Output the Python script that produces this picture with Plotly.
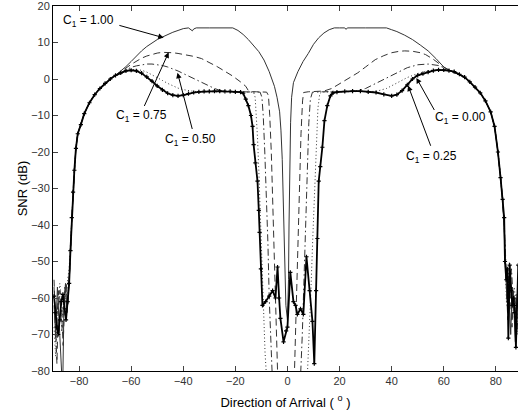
import plotly.graph_objects as go

# ---------------- data ----------------
# shared outer flanks (all curves coincide here)
outer_left_x = [-82.3, -81.8, -81.2, -80.5, -79.3, -78, -76, -74, -72, -70, -68, -66]
outer_left_y = [-31, -25, -19, -15, -12.5, -9.5, -6.5, -4.3, -2.6, -1.2, 0, 1]
outer_right_x = [68, 70, 72, 74, 76, 78, 79.5, 80.8, 81.8, 82.6]
outer_right_y = [0.5, -0.8, -2.2, -3.8, -6, -9, -13, -20, -27, -33]

# C1 = 0.00 (thick, markers)
c000_left_x = [-89.6, -89.1, -88.5, -88, -87.4, -86.8, -86.2, -85.6, -85, -84.4, -83.8, -83.3, -82.8]
c000_left_y = [-59.5, -64, -68, -70, -66, -61, -59, -63, -66, -61, -56, -47, -38]
c000_mid_x = [-64, -62, -60, -58, -56, -54, -52, -50, -48, -46, -44, -42, -40, -38, -36, -34, -32, -30,
              -28, -26, -24, -22, -20, -18, -17, -16, -15, -14, -13.4, -13, -12.3, -11.5, -11, -10.7,
              -10.2, -9.6, -8.4, -7, -5.7, -4.6, -3.8, -3.2, -2.7, -1.5, -0.5, 0, 1.1, 2.3, 3.1, 3.8,
              5, 6.1, 7.3, 8.5, 9.6, 10.3, 11, 11.5, 12, 12.6, 13.4, 14.2, 15.3, 16.5, 17.5, 19, 22,
              25, 28, 31, 34, 37, 40, 42, 44, 46, 48, 50, 52, 54, 56, 58, 60, 62, 64, 66]
c000_mid_y = [1.7, 2.2, 2.4, 2.2, 1.6, 0.6, -0.6, -1.9, -3, -3.9, -4.4, -4.6, -4.4, -4, -3.7, -3.5, -3.4,
              -3.4, -3.3, -3.3, -3.4, -3.4, -3.5, -3.6, -3.9, -5.5, -7.3, -10, -13, -18, -23, -28, -36,
              -42, -52, -62, -61, -59.5, -58, -60, -51.5, -60, -65.6, -72, -69, -68, -53, -61, -62,
              -64.5, -63, -64.5, -48.7, -58, -66.4, -78, -58, -43.7, -28, -24, -18.7, -11.4, -7.3,
              -4.6, -3.8, -3.6, -3.4, -3.3, -3.3, -3.5, -3.7, -4.2, -4.6, -4.3, -3.2, -1.6, 0, 1, 1.5,
              1.9, 2.3, 2.5, 2.5, 2.3, 2, 1.3]
c000_right_x = [83.2, 83.5, 84, 84.4, 84.8, 85.3, 85.8, 86.3, 86.8, 87.3, 87.7, 88.1, 88.6]
c000_right_y = [-38, -50, -55, -52, -71, -51, -58, -62, -60, -64, -73.5, -62, -51]

# C1 = 1.00 (thin solid)
c100_left_x = [-89.6, -89, -88.3, -87.6, -87, -86.3, -85.8, -85.2, -84.6, -84, -83.4, -82.8]
c100_left_y = [-62, -70, -57, -66, -74, -86, -62, -56, -64, -57, -50, -38]
c100_mid_x = [-64, -62, -60, -58, -56, -54, -52, -50, -48, -46, -44, -42, -40, -38, -37, -36.5, -36, -35,
              -30, -25, -21, -19, -17, -15, -13, -11, -9, -7, -5, -4, -3, -2.5, -2, -1.6, -1.2, -0.6,
              0, 0.4, 0.6, 0.8, 1.2, 1.6, 2.3, 4, 6, 8, 10, 12, 14, 16, 18, 20, 22, 22.5, 23, 30, 38,
              40, 42, 45, 48, 51, 54, 57, 60, 62, 64, 66]
c100_mid_y = [2.1, 3.4, 4.8, 6.3, 7.7, 8.9, 9.9, 10.8, 11.5, 12.2, 12.8, 13.3, 13.8, 14, 13.6, 13.2, 13.7,
              14, 14, 14, 14, 13.3, 12.2, 10.8, 9.2, 7.5, 5.2, 2, -2, -5, -9, -14, -22, -35, -50, -62,
              -66, -55, -40, -25, -12, -5, -1, 2, 4.8, 7, 9.5, 11.3, 12.6, 13.5, 14, 14, 14, 13.6, 14,
              14, 14, 13.5, 13, 12, 10.8, 9.3, 7.7, 5.6, 3.3, 2.4, 1.8, 1.1]
c100_right_x = [83.2, 83.7, 84.2, 84.7, 85.2, 85.7, 86.3, 86.9, 87.5, 88.1, 88.6]
c100_right_y = [-42, -53, -60, -54, -62, -70, -57, -63, -72, -60, -57]

# C1 = 0.75 (dashed)
c075_left_x = [-89.6, -89.1, -88.5, -87.9, -87.3, -86.7, -86.1, -85.5, -84.9, -84.3, -83.7, -83.2, -82.8]
c075_left_y = [-55, -66, -78, -62, -58, -64, -73, -60, -56, -62, -55, -46, -38]
c075_mid_x = [-64, -62, -60, -58, -56, -54, -52, -50, -48, -46, -44, -42, -40, -36, -33, -30, -27, -24,
              -21, -18, -16, -15, -14, -12, -10, -8, -7.3, -6.8, -6.2, -5.6, -5, -4.4, -3.8, -3.2, -1,
              1, 2.1, 2.7, 3.3, 3.9, 4.5, 5.2, 5.8, 6.2, 8, 11, 14, 17, 20.7, 24, 27, 30, 33.7, 37, 40,
              43, 45, 48, 51, 53, 56, 58.6, 61, 64, 66]
c075_mid_y = [1.9, 3, 4, 4.9, 5.7, 6.3, 6.8, 7.1, 7.3, 7.3, 7.2, 7, 6.8, 6.2, 5.6, 4.6, 3.4, 2.1, 0.8,
              -0.8, -2, -3.2, -3.5, -3.5, -3.5, -3.6, -4.5, -10, -20, -35, -50, -65, -80, -85, -88,
              -88, -85, -80, -65, -48, -30, -15, -6, -3.7, -3.5, -3.4, -3.3, -2.6, -1, 0.3, 1.7, 3.3,
              5.3, 6.4, 7.2, 7.6, 7.7, 7.6, 7.2, 6.7, 5.4, 4, 2.8, 1.8, 1.1]
c075_right_x = [83.2, 83.6, 84.1, 84.6, 85.1, 85.6, 86.2, 86.8, 87.4, 88, 88.6]
c075_right_y = [-40, -50, -58, -66, -55, -60, -68, -58, -62, -70, -64]

# C1 = 0.50 (dash-dot)
c050_left_x = [-89.6, -89, -88.4, -87.8, -87.2, -86.6, -86, -85.4, -84.8, -84.2, -83.6, -83.1, -82.8]
c050_left_y = [-57, -72, -64, -58, -62, -69, -63, -57, -63, -58, -53, -45, -39]
c050_mid_x = [-64, -62, -60, -58, -56, -54, -52, -50, -48, -46, -44, -42, -40, -38, -36, -34, -32, -30,
              -28, -26, -24, -22, -18, -14, -10.5, -9.8, -9.3, -8.7, -8.1, -7.5, -7, -6.3, -5.8, -3,
              0, 3, 5, 5.7, 6.4, 7, 7.6, 8.2, 8.8, 9.6, 14, 20, 26, 30, 34, 38, 42, 46, 50, 54, 58,
              62, 64, 66]
c050_mid_y = [1.8, 2.6, 3.2, 3.6, 3.9, 4.1, 4.1, 4, 3.7, 3.3, 2.8, 2.2, 1.5, 0.8, 0.1, -0.6, -1.3, -2,
              -2.6, -3.1, -3.4, -3.5, -3.5, -3.5, -3.6, -5, -10, -20, -32, -45, -60, -75, -82, -86,
              -88, -86, -82, -70, -55, -40, -25, -12, -5.5, -3.6, -3.5, -3.5, -3.3, -2.6, -1.2, 0.3,
              1.8, 3.1, 3.9, 4.1, 3.7, 2.6, 1.9, 1.2]
c050_right_x = [83.2, 83.7, 84.2, 84.8, 85.4, 86, 86.6, 87.2, 87.8, 88.4]
c050_right_y = [-39, -48, -57, -64, -58, -52, -60, -66, -59, -63]

# C1 = 0.25 (dotted)
c025_left_x = [-89.6, -89, -88.5, -88, -87.4, -86.8, -86.2, -85.6, -85, -84.4, -83.8, -83.2, -82.8]
c025_left_y = [-68, -76, -66, -60, -56, -60, -65, -58, -61, -55, -52, -44, -38]
c025_mid_x = [-64, -62, -60, -58, -56, -54, -52, -50, -48, -46, -44, -42, -40, -38, -36, -32, -28, -22,
              -17, -13, -12.4, -12, -11.5, -11, -10.4, -9.8, -9.2, -8.6, -8, -4, 0, 4, 7.6, 8.3, 9,
              9.7, 10.4, 11, 11.7, 12.4, 13, 18, 24, 30, 34, 38, 42, 46, 50, 54, 58, 62, 64, 66]
c025_mid_y = [1.7, 2.4, 2.6, 2.6, 2.4, 1.9, 1.2, 0.4, -0.4, -1.2, -1.9, -2.5, -2.9, -3.2, -3.4, -3.5,
              -3.5, -3.4, -3.5, -3.6, -5, -9, -16, -25, -38, -52, -64, -75, -82, -88, -88, -88, -82,
              -72, -58, -44, -30, -18, -8, -4, -3.6, -3.5, -3.4, -3.5, -3.4, -2.6, -1.2, 0.4, 1.5,
              2.3, 2.6, 2.4, 1.8, 1.2]
c025_right_x = [83.2, 83.6, 84.1, 84.6, 85.2, 85.8, 86.4, 87, 87.6, 88.2, 88.6]
c025_right_y = [-40, -52, -62, -56, -50, -58, -66, -57, -60, -70, -62]

x_tick_vals = [-80, -60, -40, -20, 0, 20, 40, 60, 80]
y_tick_vals = [-80, -70, -60, -50, -40, -30, -20, -10, 0, 10, 20]

# annotation labels
labels = ["C<sub>1</sub> = 1.00", "C<sub>1</sub> = 0.75", "C<sub>1</sub> = 0.50",
          "C<sub>1</sub> = 0.00", "C<sub>1</sub> = 0.25"]
label_x = [-76.5, -55.9, -37.2, 66.3, 55.2]
label_y = [15.9, -10.0, -16.6, -10.8, -21.5]
tail_x = [-65.1, -55.2, -36.4, 56.7, 55.2]
tail_y = [14.8, -7.8, -14.1, -8.9, -18.7]
head_x = [-47.5, -45.6, -42.2, 49.5, 46.3]
head_y = [11.3, 7.3, 1.7, 0.3, -1.8]

# ---------------- figure ----------------
def build(lx, ly, mx, my, rx, ry):
    return (lx + outer_left_x + mx + outer_right_x + rx,
            ly + outer_left_y + my + outer_right_y + ry)

fig = go.Figure()

series = [
    (c025_left_x, c025_left_y, c025_mid_x, c025_mid_y, c025_right_x, c025_right_y,
     dict(color="#333", width=1, dash="1px,2.5px")),
    (c050_left_x, c050_left_y, c050_mid_x, c050_mid_y, c050_right_x, c050_right_y,
     dict(color="#333", width=1, dash="7px,3px,1.5px,3px")),
    (c075_left_x, c075_left_y, c075_mid_x, c075_mid_y, c075_right_x, c075_right_y,
     dict(color="#333", width=1, dash="7px,4px")),
    (c100_left_x, c100_left_y, c100_mid_x, c100_mid_y, c100_right_x, c100_right_y,
     dict(color="#333", width=1)),
]
for lx, ly, mx, my, rx, ry, line in series:
    xs, ys = build(lx, ly, mx, my, rx, ry)
    fig.add_trace(go.Scatter(x=xs, y=ys, mode="lines", line=line, hoverinfo="skip"))

xs, ys = build(c000_left_x, c000_left_y, c000_mid_x, c000_mid_y, c000_right_x, c000_right_y)
fig.add_trace(go.Scatter(x=xs, y=ys, mode="lines+markers",
                         line=dict(color="black", width=1.8),
                         marker=dict(symbol="cross-thin", size=3, color="black",
                                     line=dict(color="black", width=1.2)),
                         hoverinfo="skip"))

ann = []
for t, lxx, lyy, tx, ty, hx, hy in zip(labels, label_x, label_y, tail_x, tail_y, head_x, head_y):
    ann.append(dict(x=hx, y=hy, ax=tx, ay=ty, xref="x", yref="y", axref="x", ayref="y",
                    text="", showarrow=True, arrowhead=2, arrowsize=1.1, arrowwidth=1,
                    arrowcolor="black"))
    ann.append(dict(x=lxx, y=lyy, xref="x", yref="y", text=t, showarrow=False,
                    font=dict(size=12, color="black", family="Liberation Sans, Arial")))

fig.update_layout(
    width=518, height=415,
    margin=dict(l=53, r=0, t=4, b=44),
    plot_bgcolor="white", paper_bgcolor="white",
    showlegend=False,
    font=dict(family="Liberation Sans, Arial", color="black"),
    annotations=ann,
    xaxis=dict(range=[-90, 88.5], tickvals=x_tick_vals, ticks="inside", ticklen=5,
               showline=True, linecolor="black", linewidth=1, mirror="ticks",
               showgrid=False, zeroline=False,
               tickfont=dict(size=11, color="#333"),
               title=dict(text="Direction of Arrival ( <sup>o</sup> )", font=dict(size=13),
                          standoff=11)),
    yaxis=dict(range=[-80, 20], tickvals=y_tick_vals, ticks="inside", ticklen=5,
               showline=True, linecolor="black", linewidth=1,
               showgrid=False, zeroline=False, ticklabeloverflow="allow",
               tickfont=dict(size=11, color="#333"),
               title=dict(text="SNR (dB)", font=dict(size=13), standoff=0)),
)

fig.write_html("out.html")
